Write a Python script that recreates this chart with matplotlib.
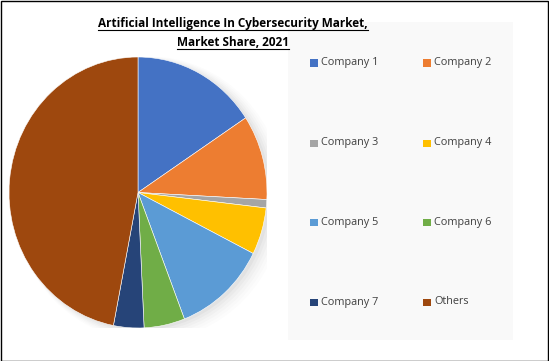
import matplotlib.pyplot as plt
from matplotlib.patches import Rectangle, Ellipse
from matplotlib.lines import Line2D

labels = ["Company 1", "Company 2", "Company 3", "Company 4",
          "Company 5", "Company 6", "Company 7", "Others"]
shares = [15.7, 10.1, 1.0, 5.6, 11.7, 5.1, 3.8, 46.9]
colors = ["#4472c4", "#ed7d31", "#a5a5a5", "#ffc000",
          "#5b9bd5", "#70ad47", "#264478", "#9e480e"]
title_lines = ["Artificial Intelligence In Cybersecurity Market,", "Market Share, 2021"]

W, H = 549, 361
fig = plt.figure(figsize=(W / 100, H / 100), dpi=100)
fig.patch.set_facecolor("white")

# legend panel background
fig.add_artist(Rectangle((288 / W, 1 - 340 / H), 225 / W, 318 / H,
                         transform=fig.transFigure, facecolor="#f9f9f9",
                         edgecolor="none", zorder=0))

# pie axes (slightly taller than wide, like the original)
ax = fig.add_axes([9 / W, 1 - 328 / H, 258 / W, 271 / H])
ax.axis("off")

# soft shadow
for i, a in enumerate([0.03, 0.025, 0.02, 0.015, 0.012, 0.01]):
    ax.add_patch(Ellipse((0.025 + 0.012 * i, -0.015 - 0.006 * i), 2.0 + 0.02 * i, 2.0 + 0.02 * i,
                         facecolor="black", alpha=a, edgecolor="none", zorder=0))

wedges, _ = ax.pie(shares, colors=colors, startangle=90, counterclock=False,
                   radius=1.0, wedgeprops=dict(edgecolor="white", linewidth=0.4))
ax.set_aspect("auto")
ax.set_xlim(-1.0, 1.0)
ax.set_ylim(-1.0, 1.0)

# legend, two columns
col_x = [310, 423]
row_y = [63, 143, 222, 302]
for i, (lab, c) in enumerate(zip(labels, colors)):
    x = col_x[i % 2]
    y = row_y[i // 2]
    fig.add_artist(Rectangle((x / W, 1 - (y + 4) / H), 7.5 / W, 7.5 / H,
                             transform=fig.transFigure, facecolor=c, edgecolor="none"))
    fig.text((x + 11) / W, 1 - y / H, lab, fontsize=7.8, color="#404040",
             va="center", ha="left", family="Open Sans")

# underlined title
fig.canvas.draw()
renderer = fig.canvas.get_renderer()
for yy, line in zip([23, 42], title_lines):
    t = fig.text(233 / W, 1 - yy / H, line, fontsize=8.5, fontweight="bold",
                 ha="center", va="center", family="Open Sans", color="black")
    bb = t.get_window_extent(renderer)
    uy = (bb.y0 - 0.5) / H
    fig.add_artist(Line2D([bb.x0 / W, bb.x1 / W], [uy, uy], color="black",
                          linewidth=0.8, transform=fig.transFigure))

# outer border
fig.add_artist(Rectangle((0.5 / W, 0.5 / H), (W - 1.5) / W, (H - 1.5) / H,
                         transform=fig.transFigure, facecolor="none",
                         edgecolor="black", linewidth=1.0))

fig.savefig("out.png", dpi=100)
